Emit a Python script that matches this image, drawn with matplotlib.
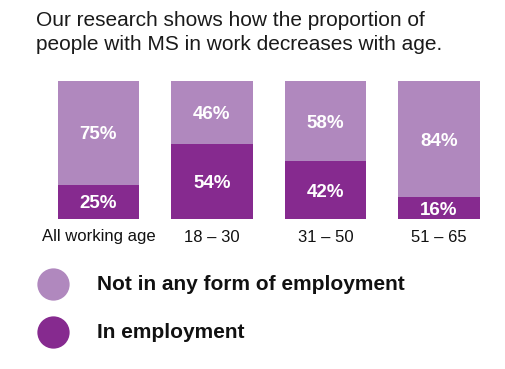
import matplotlib
matplotlib.use('Agg')
import matplotlib.pyplot as plt

# data
categories = ['All working age', '18 – 30', '31 – 50', '51 – 65']
in_employment = [25, 54, 42, 16]
not_employed = [75, 46, 58, 84]
legend_labels = ['Not in any form of employment', 'In employment']
title_lines = ['Our research shows how the proportion of',
               'people with MS in work decreases with age.']

light = '#b088be'
dark = '#862a8f'
W, H = 505, 369

plt.rcParams['font.family'] = ['Liberation Sans', 'DejaVu Sans']

fig = plt.figure(figsize=(W / 100, H / 100), dpi=100)

# bar area: top at y=81px, bottom at y=219px
ax = fig.add_axes([0, (H - 219) / H, 1, 138 / H])
step = 113.5
x0 = 98.5
ax.set_xlim(-x0 / step, (W - x0) / step)
ax.set_ylim(0, 100)
ax.axis('off')

xs = list(range(len(categories)))
ax.bar(xs, in_employment, width=0.714, color=dark, linewidth=0)
ax.bar(xs, not_employed, bottom=in_employment, width=0.714, color=light, linewidth=0)

for x, e, n in zip(xs, in_employment, not_employed):
    for yv, val in [(e / 2, e), (e + n / 2, n)]:
        ax.annotate(f'{val}%', (x, yv), xytext=(0, -1.5), textcoords='offset points',
                    ha='center', va='center', color='white',
                    fontsize=13.5, fontweight='bold')

# overlay in pixel coords for text and legend
ov = fig.add_axes([0, 0, 1, 1])
ov.set_xlim(0, W)
ov.set_ylim(H, 0)
ov.axis('off')
ov.patch.set_alpha(0)

for x, c in zip(xs, categories):
    ov.text(x0 + x * step, 237, c, ha='center', va='center', fontsize=12, color='#111111')

for i, line in enumerate(title_lines):
    ov.text(36, 26.5 + i * 23.5, line, ha='left', va='baseline', fontsize=15, color='#1a1a1a')

for i, (lab, col) in enumerate(zip(legend_labels, [light, dark])):
    y = 284 + i * 48
    ov.scatter([53], [y], s=540, color=col, linewidths=0)
    ov.text(97, y, lab, ha='left', va='center', fontsize=15, fontweight='bold', color='#111111')

fig.savefig('out.png', dpi=100)
